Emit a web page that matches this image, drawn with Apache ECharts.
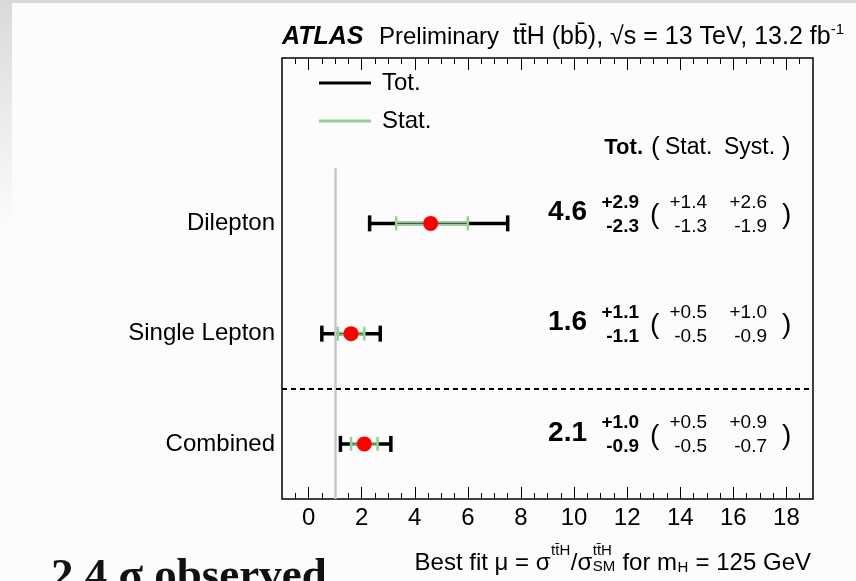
<!DOCTYPE html>
<html><head><meta charset="utf-8">
<script src="https://cdn.jsdelivr.net/npm/echarts@6/dist/echarts.min.js"></script>
<style>html,body{margin:0;padding:0;background:#fcfcfc}#c{width:856px;height:581px}</style>
</head><body><div id="c"></div>
<script>
// ---- data ----
const categories = ['Combined', 'Single Lepton', 'Dilepton'];
const muValues = [2.1, 1.6, 4.6];
const totUp = [1.0, 1.1, 2.9];
const totDown = [0.9, 1.1, 2.3];
const statUp = [0.5, 0.5, 1.4];
const statDown = [0.5, 0.5, 1.3];
const systUp = [0.9, 1.0, 2.6];
const systDown = [0.7, 0.9, 1.9];
const xTickLabels = [0, 2, 4, 6, 8, 10, 12, 14, 16, 18];
const smValue = 1;

// ---- helpers ----
const FONT = '"Liberation Sans", Arial, Helvetica, sans-serif';
const GREEN = '#94d094';
const minorTicks = [];
for (let v = -0.5; v < 19; v += 0.5) { if (!(Math.abs(v % 2) < 1e-9)) minorTicks.push(v); }

const rows = categories.map((c, i) => [
  muValues[i], muValues[i] - totDown[i], muValues[i] + totUp[i],
  muValues[i] - statDown[i], muValues[i] + statUp[i], i + 0.5, i
]);

function fmtUp(v) { return '+' + v.toFixed(1); }
function fmtDown(v) { return '-' + v.toFixed(1); }

function renderTot(params, api) {
  const y = api.value(5);
  const a = api.coord([api.value(1), y]);
  const b = api.coord([api.value(2), y]);
  const h = 8;
  const st = { stroke: '#000', lineWidth: 3.5 };
  return { type: 'group', children: [
    { type: 'line', shape: { x1: a[0], y1: a[1], x2: b[0], y2: b[1] }, style: st },
    { type: 'line', shape: { x1: a[0], y1: a[1] - h, x2: a[0], y2: a[1] + h }, style: st },
    { type: 'line', shape: { x1: b[0], y1: b[1] - h, x2: b[0], y2: b[1] + h }, style: st }
  ]};
}
function renderStat(params, api) {
  const y = api.value(5);
  const a = api.coord([api.value(3), y]);
  const b = api.coord([api.value(4), y]);
  const m = api.coord([api.value(0), y]);
  const h = 7;
  const st = { stroke: GREEN, lineWidth: 2.5 };
  return { type: 'group', children: [
    { type: 'line', shape: { x1: a[0], y1: a[1], x2: b[0], y2: b[1] }, style: { stroke: GREEN, lineWidth: 4 } },
    { type: 'line', shape: { x1: a[0], y1: a[1], x2: b[0], y2: b[1] }, style: { stroke: '#3a4a3a', lineWidth: 1 } },
    { type: 'line', shape: { x1: a[0], y1: a[1] - h, x2: a[0], y2: a[1] + h }, style: st },
    { type: 'line', shape: { x1: b[0], y1: b[1] - h, x2: b[0], y2: b[1] + h }, style: st },
    { type: 'circle', shape: { cx: m[0], cy: m[1], r: 7.5 }, style: { fill: '#ff0000' } }
  ]};
}
function txt(x, y, s, size, weight, align) {
  return { type: 'text', x: x, y: y, style: { text: s, fontSize: size, fontWeight: weight || 'normal', fontFamily: FONT, fill: '#000', align: align || 'left', verticalAlign: 'middle' } };
}
function renderVals(params, api) {
  const i = api.value(6);
  const p = api.coord([0, api.value(5)]);
  const yc = p[1];
  return { type: 'group', children: [
    txt(587, yc - 11, muValues[i].toFixed(1), 28, 'bold', 'right'),
    txt(639, yc - 21, fmtUp(totUp[i]), 19, 'bold', 'right'),
    txt(639, yc + 3, fmtDown(totDown[i]), 19, 'bold', 'right'),
    txt(650, yc - 8, '(', 28, 'normal', 'left'),
    txt(707, yc - 21, fmtUp(statUp[i]), 19, 'normal', 'right'),
    txt(707, yc + 3, fmtDown(statDown[i]), 19, 'normal', 'right'),
    txt(767, yc - 21, fmtUp(systUp[i]), 19, 'normal', 'right'),
    txt(767, yc + 3, fmtDown(systDown[i]), 19, 'normal', 'right'),
    txt(782, yc - 8, ')', 28, 'normal', 'left')
  ]};
}

// x-axis title built from pieces with stacked super/subscripts
function buildAxisTitle() {
  const ctx = document.createElement('canvas').getContext('2d');
  const big = 24, small = 15;
  const w = (s, size) => { ctx.font = size + 'px ' + FONT; return ctx.measureText(s).width; };
  const parts = [
    { main: 'Best fit \u03BC = \u03C3' },
    { sup: 'tt\u0304H' },
    { main: '/\u03C3' },
    { sup: 'tt\u0304H', sub: 'SM' },
    { main: ' for m' },
    { sub: 'H' },
    { main: ' = 125 GeV' }
  ];
  const widths = parts.map(p => Math.max(p.main ? w(p.main, big) : 0, p.sup ? w(p.sup, small) : 0, p.sub ? w(p.sub, small) : 0) + ((p.sup || p.sub) && !p.main ? 1 : 0));
  const total = widths.reduce((a, b) => a + b, 0);
  let x = 811 - total;
  const els = [];
  const mk = (xx, yy, s, size) => ({ type: 'text', x: xx, y: yy, style: { text: s, fontSize: size, fontFamily: FONT, fill: '#000', verticalAlign: 'middle' } });
  parts.forEach((p, k) => {
    if (p.main) els.push(mk(x, 563, p.main, big));
    if (p.sup) els.push(mk(x + 0.5, 551, p.sup, small));
    if (p.sub) els.push(mk(x + 0.5, p.sup ? 567 : 568, p.sub, small));
    x += widths[k];
  });
  return els;
}

const xBase = { type: 'value', min: -1, max: 19, splitLine: { show: false }, axisLine: { show: false } };
const option = {
  animation: false,
  backgroundColor: '#fcfcfc',
  grid: { left: 282, right: 43, top: 58, bottom: 82, show: true, borderColor: '#000', borderWidth: 1.5, backgroundColor: 'transparent' },
  xAxis: [
    Object.assign({}, xBase, { position: 'bottom',
      axisTick: { show: true, inside: true, length: 12, customValues: xTickLabels, lineStyle: { color: '#000', width: 1 } },
      axisLabel: { show: true, customValues: xTickLabels, fontSize: 24, fontFamily: FONT, color: '#000', margin: 7 } }),
    Object.assign({}, xBase, { position: 'bottom',
      axisTick: { show: true, inside: true, length: 6, customValues: minorTicks, lineStyle: { color: '#000', width: 1 } },
      axisLabel: { show: false } }),
    Object.assign({}, xBase, { position: 'top',
      axisTick: { show: true, inside: true, length: 12, customValues: xTickLabels, lineStyle: { color: '#000', width: 1 } },
      axisLabel: { show: false } }),
    Object.assign({}, xBase, { position: 'top',
      axisTick: { show: true, inside: true, length: 6, customValues: minorTicks, lineStyle: { color: '#000', width: 1 } },
      axisLabel: { show: false } })
  ],
  yAxis: {
    type: 'value', min: 0, max: 4,
    axisLine: { show: false }, axisTick: { show: false }, splitLine: { show: false },
    axisLabel: { show: true, customValues: [0.5, 1.5, 2.5], margin: 7, fontSize: 24, fontFamily: FONT, color: '#000',
      formatter: v => categories[Math.round(v - 0.5)] }
  },
  legend: {
    orient: 'vertical', left: 314, top: 66, itemWidth: 52, itemHeight: 3, itemGap: 14,
    icon: 'rect', selectedMode: false,
    textStyle: { fontSize: 24, fontFamily: FONT, color: '#000', padding: [0, 0, 0, 6] },
    data: [ { name: 'Tot.', itemStyle: { color: '#000' } }, { name: 'Stat.', itemStyle: { color: GREEN } } ]
  },
  series: [
    { type: 'line', data: [], z: 1, silent: true,
      markLine: { silent: true, symbol: 'none', animation: false, label: { show: false },
        data: [
          [ { coord: [smValue, 0], lineStyle: { color: '#c8c8c8', width: 2.5, type: 'solid' } }, { coord: [smValue, 3] } ],
          [ { coord: [-1, 1], lineStyle: { color: '#000', width: 2, type: [5, 4] } }, { coord: [19, 1] } ]
        ] } },
    { name: 'Tot.', type: 'custom', renderItem: renderTot, data: rows, encode: { x: [1, 2], y: 5 }, itemStyle: { color: '#000' }, z: 3 },
    { name: 'Stat.', type: 'custom', renderItem: renderStat, data: rows, encode: { x: [3, 4], y: 5 }, itemStyle: { color: GREEN }, z: 4 },
    { name: 'values', type: 'custom', renderItem: renderVals, data: rows, encode: { x: 0, y: 5 }, z: 5, clip: false }
  ],
  graphic: [
    { type: 'rect', shape: { x: 0, y: 0, width: 856, height: 3 }, style: { fill: '#d9d9d9' }, z: -1 },
    { type: 'rect', shape: { x: 0, y: 0, width: 12, height: 230 }, z: -1,
      style: { fill: new echarts.graphic.LinearGradient(0, 0, 0, 1, [ { offset: 0, color: '#dadada' }, { offset: 1, color: '#fcfcfc' } ]) } },
    { type: 'text', x: 282, y: 37, style: { text: 'ATLAS', fontSize: 25, fontWeight: 'bold', fontStyle: 'italic', fontFamily: FONT, fill: '#000', verticalAlign: 'middle' } },
    { type: 'text', x: 379, y: 37, style: { text: 'Preliminary', fontSize: 24, fontFamily: FONT, fill: '#000', verticalAlign: 'middle' } },
    { type: 'text', x: 844, y: 37, style: {
        text: '{b|tt\u0304H (bb\u0304), \u221As = 13 TeV, 13.2 fb}{s|-1}',
        align: 'right', verticalAlign: 'middle',
        rich: {
          b: { fontSize: 25, fontFamily: FONT, fill: '#000', lineHeight: 30 },
          s: { fontSize: 15, fontFamily: FONT, fill: '#000', lineHeight: 16, verticalAlign: 'top' }
        } } },
    { type: 'text', x: 643, y: 148, style: { text: 'Tot.', fontSize: 22, fontWeight: 'bold', fontFamily: FONT, fill: '#000', align: 'right', verticalAlign: 'middle' } },
    { type: 'text', x: 651, y: 148, style: { text: '(', fontSize: 26, fontFamily: FONT, fill: '#000', verticalAlign: 'middle' } },
    { type: 'text', x: 665, y: 148, style: { text: 'Stat.', fontSize: 23, fontFamily: FONT, fill: '#000', verticalAlign: 'middle' } },
    { type: 'text', x: 724, y: 148, style: { text: 'Syst.', fontSize: 23, fontFamily: FONT, fill: '#000', verticalAlign: 'middle' } },
    { type: 'text', x: 782, y: 148, style: { text: ')', fontSize: 26, fontFamily: FONT, fill: '#000', verticalAlign: 'middle' } },
    { type: 'text', x: 51, y: 555, style: { text: '2.4 \u03C3 observed', fontSize: 45, fontWeight: 'bold', fontFamily: '"Liberation Serif", "DejaVu Serif", serif', fill: '#111', verticalAlign: 'top' } }
  ].concat(buildAxisTitle())
};
const chart = echarts.init(document.getElementById('c'), null, { renderer: 'canvas' });
chart.setOption(option);
</script></body></html>
